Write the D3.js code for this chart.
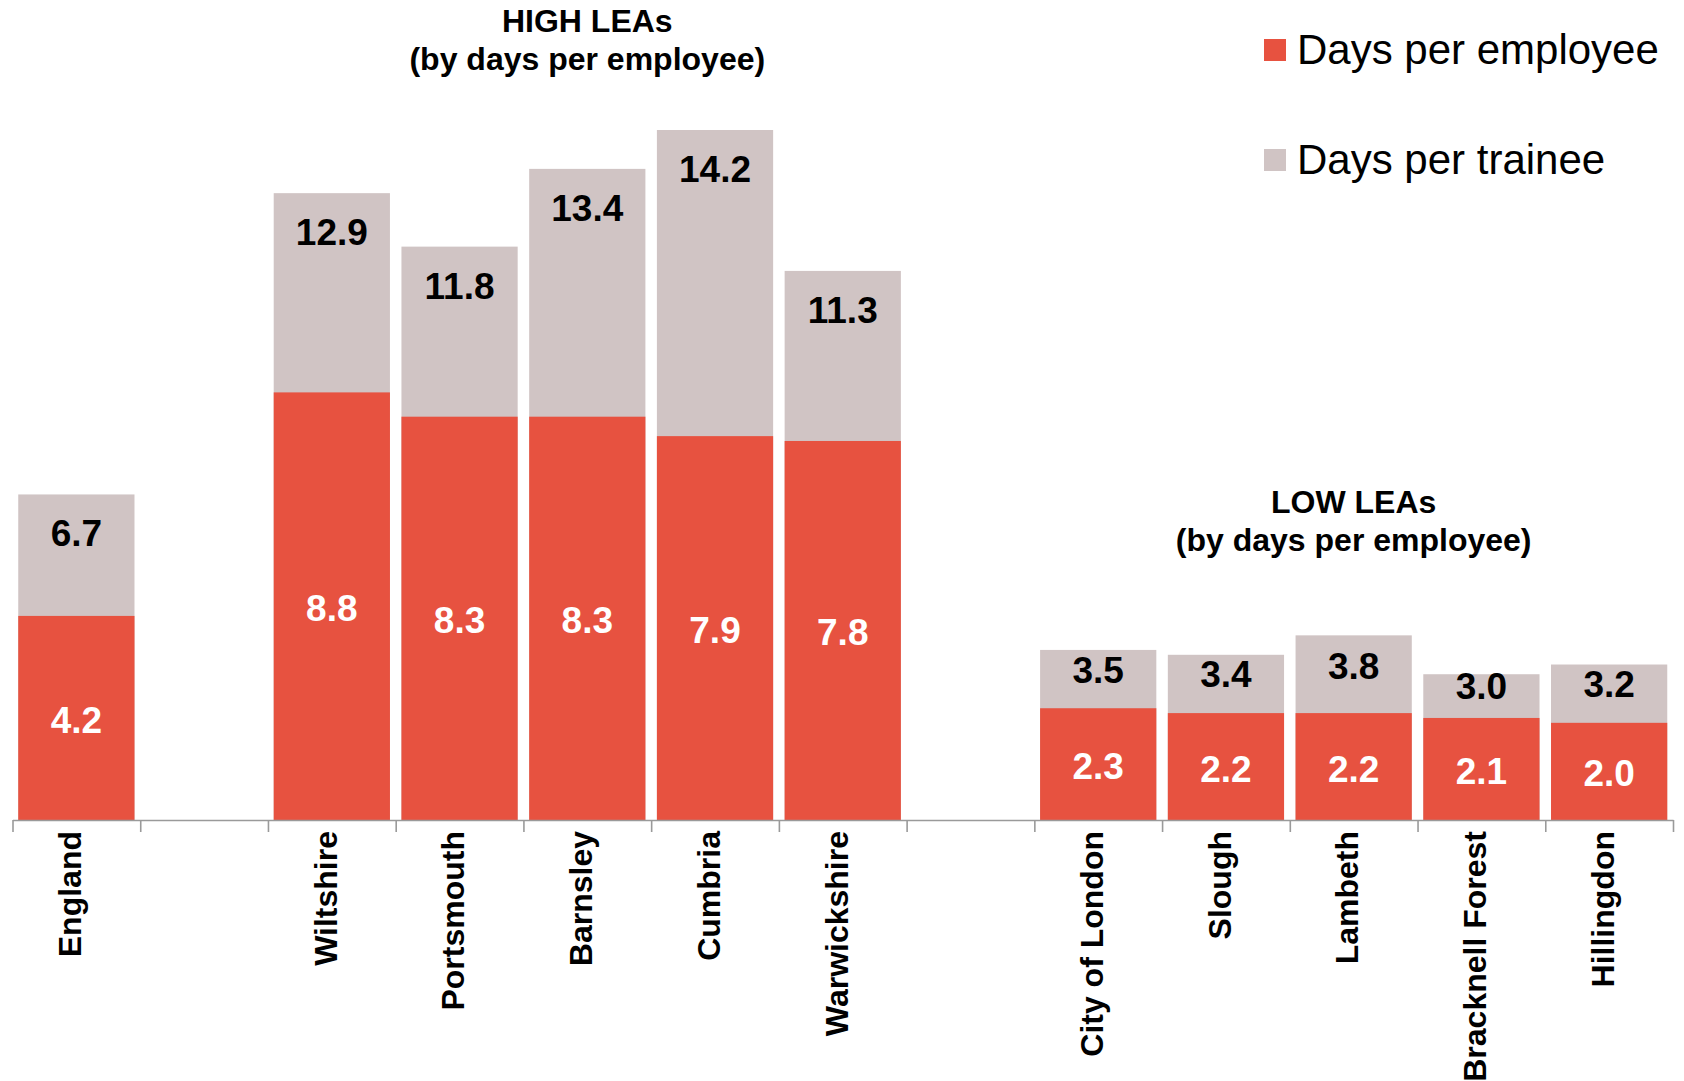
<!DOCTYPE html>
<html>
<head>
<meta charset="utf-8">
<script src="https://cdn.jsdelivr.net/npm/d3@7"></script>
<style>
  html, body { margin: 0; padding: 0; background: #fff; }
  svg { display: block; font-family: "Liberation Sans", Arial, sans-serif; }
</style>
</head>
<body>
<svg id="chart" width="1684" height="1081"></svg>
<script>
// Training days per employee / per trainee, England average and high/low LEAs
const categories = ["England", "", "Wiltshire", "Portsmouth", "Barnsley", "Cumbria", "Warwickshire", "",
                    "City of London", "Slough", "Lambeth", "Bracknell Forest", "Hillingdon"];
const daysPerEmployee = [4.2, null, 8.8, 8.3, 8.3, 7.9, 7.8, null, 2.3, 2.2, 2.2, 2.1, 2.0];
const daysPerTrainee  = [6.7, null, 12.9, 11.8, 13.4, 14.2, 11.3, null, 3.5, 3.4, 3.8, 3.0, 3.2];
const seriesNames = ["Days per employee", "Days per trainee"];
const highGroup = ["Wiltshire", "Warwickshire"];
const lowGroup = ["City of London", "Hillingdon"];
const groupTitles = [["HIGH LEAs", "(by days per employee)"], ["LOW LEAs", "(by days per employee)"]];

const colors = { employee: "#E75240", trainee: "#D0C4C4" };

const svg = d3.select("#chart");
const slots = categories.map((c, i) => c === "" ? "__gap" + i : c);
const rows = slots.map((s, i) => ({ key: s, name: categories[i], emp: daysPerEmployee[i], tr: daysPerTrainee[i] }))
                  .filter(d => d.emp !== null);

const x0 = 12.5, x1 = 1673, baseY = 820;
const x = d3.scaleBand().domain(slots).range([x0, x1]).paddingInner(0.09).paddingOuter(0.045);
const y = d3.scaleLinear().domain([0, 14.2]).range([baseY, 130]);

// bars: trainee drawn full height behind, employee overlaid in front
const g = svg.append("g");
g.selectAll("rect.tr").data(rows).join("rect").attr("class", "tr")
  .attr("x", d => x(d.key)).attr("width", x.bandwidth())
  .attr("y", d => y(d.tr)).attr("height", d => baseY - y(d.tr))
  .attr("fill", colors.trainee);
g.selectAll("rect.emp").data(rows).join("rect").attr("class", "emp")
  .attr("x", d => x(d.key)).attr("width", x.bandwidth())
  .attr("y", d => y(d.emp)).attr("height", d => baseY - y(d.emp))
  .attr("fill", colors.employee);

// value labels: trainee near the top of its bar, employee centred in the red bar
g.selectAll("text.trl").data(rows).join("text").attr("class", "trl")
  .attr("x", d => x(d.key) + x.bandwidth() / 2)
  .attr("y", d => y(d.tr) + Math.min(52, 0.56 * (y(d.emp) - y(d.tr))))
  .attr("text-anchor", "middle").attr("font-size", 37).attr("font-weight", "bold").attr("fill", "#000")
  .text(d => d.tr.toFixed(1));
g.selectAll("text.empl").data(rows).join("text").attr("class", "empl")
  .attr("x", d => x(d.key) + x.bandwidth() / 2)
  .attr("y", d => (y(d.emp) + baseY) / 2 + 15)
  .attr("text-anchor", "middle").attr("font-size", 37).attr("font-weight", "bold").attr("fill", "#fff")
  .text(d => d.emp.toFixed(1));

// category axis with ticks at slot boundaries
const tickScale = d3.scaleLinear().domain([0, slots.length]).range([x0, x1]);
const axis = svg.append("g").attr("transform", `translate(0,${baseY})`)
  .call(d3.axisBottom(tickScale).tickValues(d3.range(slots.length + 1))
    .tickFormat("").tickSize(12).tickSizeOuter(0));
axis.select(".domain").attr("stroke", "#9a9a9a").attr("stroke-width", 1.6);
axis.selectAll(".tick line").attr("stroke", "#9a9a9a").attr("stroke-width", 1.6);

svg.append("g").selectAll("text").data(rows).join("text")
  .attr("transform", d => `translate(${x(d.key) + x.bandwidth() / 2},831) rotate(-90)`)
  .attr("dy", "0.15em")
  .attr("text-anchor", "end").attr("font-size", 32).attr("font-weight", "bold").attr("fill", "#000")
  .text(d => d.name);

// group titles
const titleTops = [32, 513];
[highGroup, lowGroup].forEach((grp, gi) => {
  const cx = (x(grp[0]) + x(grp[1]) + x.bandwidth()) / 2;
  const t = svg.append("text").attr("text-anchor", "middle").attr("font-size", 32)
    .attr("font-weight", "bold").attr("fill", "#000");
  groupTitles[gi].forEach((line, li) => {
    t.append("tspan").attr("x", cx).attr("y", titleTops[gi] + li * 38).text(line);
  });
});

// legend
const legend = svg.append("g").attr("transform", "translate(1264,39)");
const legendColors = [colors.employee, colors.trainee];
seriesNames.forEach((name, i) => {
  const row = legend.append("g").attr("transform", `translate(0,${i * 110})`);
  row.append("rect").attr("width", 22).attr("height", 22).attr("fill", legendColors[i]);
  row.append("text").attr("x", 33).attr("y", 25).attr("font-size", 42).attr("fill", "#000").text(name);
});
</script>
</body>
</html>
